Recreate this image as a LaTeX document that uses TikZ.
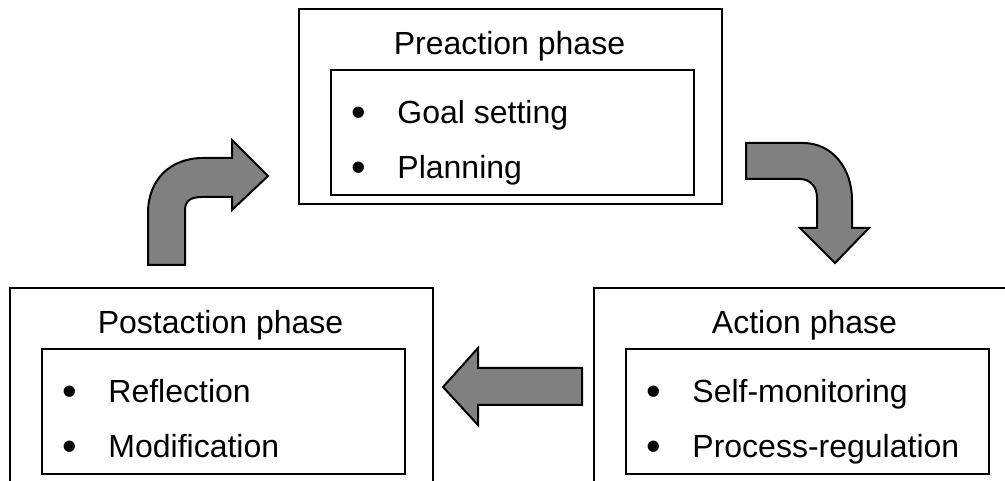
\documentclass[tikz,border=0pt]{standalone}
\usepackage{fontspec}
\setmainfont{Liberation Sans}
\usetikzlibrary{positioning}
\definecolor{phaseArrow}{RGB}{128,128,128}
\newcommand{\phaseitem}[1]{\makebox[17.4pt][l]{\raisebox{-0.1em}{\scalebox{1.3}{\textbullet}}}#1}

\begin{document}
\begin{tikzpicture}[x=0.375pt,y=-0.375pt,font=\fontsize{12}{14}\selectfont,
    phasebox/.style={draw,line width=0.75pt,inner sep=0pt,anchor=north west},
    bentarrow/.style={draw,fill=phaseArrow,line width=0.75pt,line join=miter}]

  \useasboundingbox (0,0) rectangle (1005,481);
  \clip (0,0) rectangle (1005,481);

  % the three phases
  \foreach \nm/\ox/\oy/\oh/\title/\itemA/\itemB in {
    pre/298/8/195/{Preaction phase}/{Goal setting}/{Planning},
    post/9/287/240/{Postaction phase}/{Reflection}/{Modification},
    act/593/287/240/{Action phase}/{Self-monitoring}/{Process-regulation}}{
    \node[phasebox,minimum width=423*0.375pt,minimum height=\oh*0.375pt]
      (\nm) at (\ox,\oy) {};
    \node[phasebox,minimum width=363*0.375pt,minimum height=125*0.375pt]
      (\nm-list) at (\ox+32,\oy+61) {};
    \node[anchor=base,inner sep=0pt] (\nm-title) at (\ox+211.5,\oy+46.5) {\title};
    \node[anchor=base west,inner sep=0pt] (\nm-a) at (\ox+52.5,\oy+115.5) {\phaseitem{\itemA}};
    \node[anchor=base west,inner sep=0pt] (\nm-b) at (\ox+52.5,\oy+170.5) {\phaseitem{\itemB}};
  }

  % post -> pre
  \path[bentarrow] (148,265) -- (148,213) .. controls (148,180) and (170,158) .. (203,158)
    -- (232,158) -- (232,140) -- (268,176) -- (232,210) -- (232,197) -- (202,197)
    .. controls (192,197) and (185,200) .. (185,210) -- (185,265) -- cycle;
  % pre -> act
  \path[bentarrow] (746,143) -- (803,143) .. controls (832,143) and (852,168) .. (852,200)
    -- (852,228) -- (869,228) -- (835,263) -- (800,228) -- (817,228) -- (817,197)
    .. controls (817,187) and (810,179) .. (800,179) -- (746,179) -- cycle;
  % act -> post
  \path[bentarrow] (582,368) -- (478,368) -- (478,348) -- (443,387) -- (478,425)
    -- (478,405) -- (582,405) -- cycle;

\end{tikzpicture}
\end{document}
